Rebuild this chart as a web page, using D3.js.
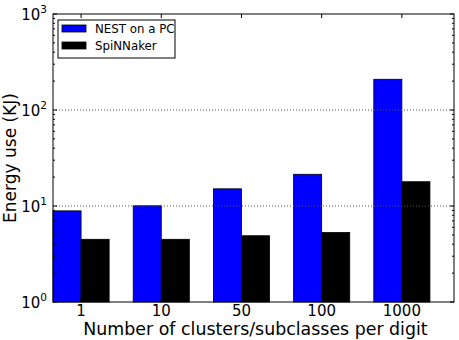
<!DOCTYPE html>
<html><head><meta charset="utf-8">
<script src="https://cdn.jsdelivr.net/npm/d3@7"></script>
<style>body{margin:0;background:#fff}svg text{font-family:"DejaVu Sans",sans-serif}</style>
</head><body><svg id="c" width="459" height="340"></svg>
<script>
const categories = ["1","10","50","100","1000"];
const nestValues = [8.9, 10.05, 15.1, 21.4, 209];
const spinnValues = [4.5, 4.5, 4.9, 5.3, 17.9];
const seriesNames = ["NEST on a PC","SpiNNaker"];
const yTickExponents = [0,1,2,3];

const svg = d3.select("#c");
const L=53, R=454, T=14, B=302;
const x = d3.scaleLinear().domain([0,5]).range([L,R]);
const y = d3.scaleLog().domain([1,1000]).range([B,T]);
const bw = 0.35;

// bars
const g = svg.append("g");
categories.forEach((c,i)=>{
  g.append("rect").attr("x",x(i)).attr("y",y(nestValues[i])).attr("width",x(i+bw)-x(i))
    .attr("height",B-y(nestValues[i])).attr("fill","#0000ff").attr("stroke","#000").attr("stroke-width",0.8);
  g.append("rect").attr("x",x(i+bw)).attr("y",y(spinnValues[i])).attr("width",x(i+2*bw)-x(i+bw))
    .attr("height",B-y(spinnValues[i])).attr("fill","#000").attr("stroke","#000").attr("stroke-width",0.8);
});

// grid
[10,100].forEach(v=>{
  svg.append("line").attr("x1",L).attr("x2",R).attr("y1",y(v)).attr("y2",y(v))
    .attr("stroke","#555").attr("stroke-width",1).attr("stroke-dasharray","1,2");
});

// minor y ticks
const minor=[];
for(let e=0;e<3;e++) for(let k=2;k<=9;k++) minor.push(k*Math.pow(10,e));
minor.forEach(v=>{
  svg.append("line").attr("x1",L).attr("x2",L+2).attr("y1",y(v)).attr("y2",y(v)).attr("stroke","#000");
  svg.append("line").attr("x1",R-2).attr("x2",R).attr("y1",y(v)).attr("y2",y(v)).attr("stroke","#000");
});
yTickExponents.forEach(e=>{
  const v=Math.pow(10,e);
  svg.append("line").attr("x1",L).attr("x2",L+4).attr("y1",y(v)).attr("y2",y(v)).attr("stroke","#000");
  svg.append("line").attr("x1",R-4).attr("x2",R).attr("y1",y(v)).attr("y2",y(v)).attr("stroke","#000");
  const t=svg.append("text").attr("x",L-6).attr("y",y(v)+6).attr("text-anchor","end").attr("font-size",15);
  t.append("tspan").text("10");
  t.append("tspan").attr("dy",-7).attr("font-size",10.5).text(e);
});
// x ticks
categories.forEach((c,i)=>{
  const xx=x(i+bw);
  svg.append("line").attr("x1",xx).attr("x2",xx).attr("y1",B).attr("y2",B-4).attr("stroke","#000");
  svg.append("line").attr("x1",xx).attr("x2",xx).attr("y1",T).attr("y2",T+4).attr("stroke","#000");
  svg.append("text").attr("x",xx).attr("y",316).attr("text-anchor","middle").attr("font-size",15).text(c);
});

// frame
svg.append("rect").attr("x",L).attr("y",T).attr("width",R-L).attr("height",B-T)
  .attr("fill","none").attr("stroke","#000").attr("stroke-width",1);

// labels
svg.append("text").attr("x",(L+R)/2+2).attr("y",334.5).attr("text-anchor","middle").attr("font-size",17.4)
  .text("Number of clusters/subclasses per digit");
svg.append("text").attr("transform",`translate(16,${(T+B)/2}) rotate(-90)`).attr("text-anchor","middle")
  .attr("font-size",17).text("Energy use (KJ)");

// legend
const lg=svg.append("g");
lg.append("rect").attr("x",58).attr("y",20).attr("width",117).attr("height",38)
  .attr("fill","#fff").attr("stroke","#000").attr("stroke-width",1);
const colors=["#0000ff","#000"];
seriesNames.forEach((n,i)=>{
  lg.append("rect").attr("x",62).attr("y",25+i*17).attr("width",24).attr("height",7)
    .attr("fill",colors[i]).attr("stroke","#000").attr("stroke-width",0.8);
  lg.append("text").attr("x",95).attr("y",33+i*17).attr("font-size",11.8).text(n);
});
</script></body></html>
